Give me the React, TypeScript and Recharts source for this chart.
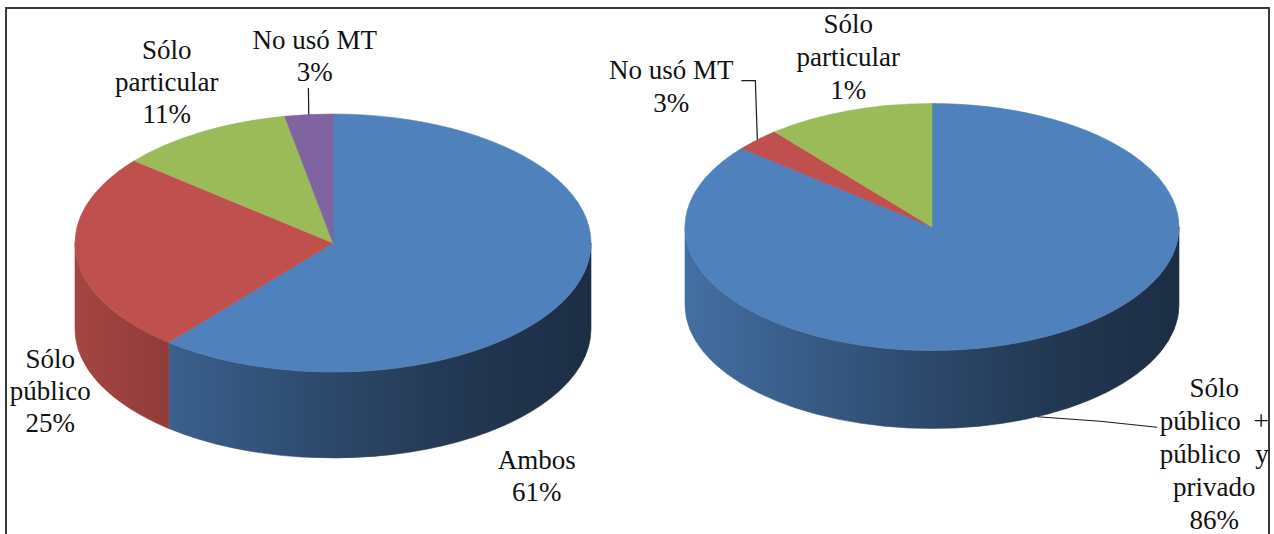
import { Cell, Pie, PieChart, Tooltip } from "recharts";

const W = 1274;
const H = 534;

// Uso de medios de transporte: todos los hogares
const LEFT_NAMES = ["Ambos", "Sólo\npúblico", "Sólo\nparticular", "No usó MT"];
const LEFT_VALUES = [61, 25, 11, 3];
const LEFT_PCT_LABELS = ["61%", "25%", "11%", "3%"];
const LEFT_COLORS = ["#4F81BD", "#C0504D", "#9BBB59", "#8064A2"];

// Uso de medios de transporte: segundo grupo
const RIGHT_NAMES = ["Sólo\npúblico +\npúblico y\nprivado", "No usó MT", "Sólo\nparticular"];
const RIGHT_VALUES = [86, 3, 11];
const RIGHT_PCT_LABELS = ["86%", "3%", "1%"];
const RIGHT_COLORS = ["#4F81BD", "#C0504D", "#9BBB59"];

const leftData = LEFT_NAMES.map((name, i) => ({ name, value: LEFT_VALUES[i] }));
const rightData = RIGHT_NAMES.map((name, i) => ({ name, value: RIGHT_VALUES[i] }));

const TILT = 0.5; // vertical squash of the pie top
const FONT = "Liberation Serif";
const FONT_SIZE = 27;

type LabelLayout = { dx: number; dy: number; justify?: number; leader?: [number, number][] };

// label centre offsets from the slice anchor, plus optional leader elbows
const LEFT_LABEL_LAYOUT: LabelLayout[] = [
  { dx: -39, dy: 103 },
  { dx: -26, dy: 50 },
  { dx: -35, dy: -50 },
  { dx: 6, dy: -58.5, leader: [[-6.3, 32]] },
];
const RIGHT_LABEL_LAYOUT: LabelLayout[] = [
  { dx: 177, dy: 37, justify: 109, leader: [[-114, -32.5], [-57, -26.5]] },
  { dx: -86, dy: -53, leader: [[84, -6], [70, -6]] },
  { dx: 0, dy: -54 },
];

// side wall shading, left to right across the pie
const WALL_STOPS: [number, number][] = [
  [0, 0.86],
  [0.2, 0.74],
  [0.5, 0.56],
  [0.75, 0.43],
  [1, 0.36],
];

const rad = (d: number) => (d * Math.PI) / 180;

function rimPoint(cx: number, cy: number, r: number, deg: number): [number, number] {
  return [cx + r * Math.cos(rad(deg)), cy - r * TILT * Math.sin(rad(deg))];
}

function shade(hex: string, k: number) {
  const n = parseInt(hex.slice(1), 16);
  const c = [(n >> 16) & 255, (n >> 8) & 255, n & 255].map((v) => Math.round(v * k));
  return `rgb(${c.join(",")})`;
}

function sliceShape(id: string, depth: number) {
  return (props: any) => {
    const { cx, cy, outerRadius: r, startAngle, endAngle, fill } = props;
    const hi = Math.max(startAngle, endAngle);
    const lo = Math.min(startAngle, endAngle);
    const ry = r * TILT;
    const [x0, y0] = rimPoint(cx, cy, r, hi);
    const [x1, y1] = rimPoint(cx, cy, r, lo);
    const top = `M${cx},${cy}L${x0},${y0}A${r},${ry} 0 ${hi - lo > 180 ? 1 : 0} 1 ${x1},${y1}Z`;

    // only the front half of the rim (-180..0) shows a wall
    const wHi = Math.min(hi, 0);
    const wLo = Math.max(lo, -180);
    const gid = `${id}-wall-${String(fill).slice(1)}`;
    let wall: string | null = null;
    if (wHi > wLo) {
      const [a0, b0] = rimPoint(cx, cy, r, wHi);
      const [a1, b1] = rimPoint(cx, cy, r, wLo);
      wall = `M${a0},${b0}A${r},${ry} 0 0 1 ${a1},${b1}L${a1},${b1 + depth}A${r},${ry} 0 0 0 ${a0},${b0 + depth}Z`;
    }

    return (
      <g>
        {wall && (
          <>
            <defs>
              <linearGradient id={gid} gradientUnits="userSpaceOnUse" x1={cx - r} y1={0} x2={cx + r} y2={0}>
                {WALL_STOPS.map(([o, k]) => (
                  <stop key={o} offset={o} stopColor={shade(fill, k)} />
                ))}
              </linearGradient>
            </defs>
            <path d={wall} fill={`url(#${gid})`} stroke={`url(#${gid})`} strokeWidth={0.6} />
          </>
        )}
        <path d={top} fill={fill} stroke={fill} strokeWidth={0.6} />
      </g>
    );
  };
}

function sliceLabel(names: string[], pcts: string[], layout: LabelLayout[], depth: number, lh: number) {
  return (props: any) => {
    const { cx, cy, outerRadius: r, midAngle } = props;
    const i = typeof props.index === "number" ? props.index : names.indexOf(props.name);
    const L = layout[i];
    if (!L) return null;
    let [ax, ay] = rimPoint(cx, cy, r, midAngle);
    if (Math.sin(rad(midAngle)) < 0) ay += depth;
    const lx = ax + L.dx;
    const ly = ay + L.dy;
    const lines = [...names[i].split("\n"), pcts[i]];
    const first = ly - ((lines.length - 1) * lh) / 2;
    const pts = L.leader
      ? [[ax, ay], ...L.leader.map(([px, py]) => [lx + px, ly + py])].map((p) => p.join(",")).join(" ")
      : null;

    return (
      <g>
        {pts && <polyline points={pts} fill="none" stroke="#1a1a1a" strokeWidth={1.2} />}
        {lines.map((t, k) => {
          const y = first + k * lh + 9;
          const words = t.split(" ");
          if (L.justify && words.length > 1) {
            return (
              <g key={k}>
                <text x={lx - L.justify / 2} y={y} textAnchor="start" fontFamily={FONT} fontSize={FONT_SIZE} fill="#111">
                  {words.slice(0, -1).join(" ")}
                </text>
                <text x={lx + L.justify / 2} y={y} textAnchor="end" fontFamily={FONT} fontSize={FONT_SIZE} fill="#111">
                  {words[words.length - 1]}
                </text>
              </g>
            );
          }
          return (
            <text key={k} x={lx} y={y} textAnchor="middle" fontFamily={FONT} fontSize={FONT_SIZE} fill="#111">
              {t}
            </text>
          );
        })}
      </g>
    );
  };
}

const LEFT_DEPTH = 86;
const RIGHT_DEPTH = 78;

const leftSlice = sliceShape("left", LEFT_DEPTH);
const rightSlice = sliceShape("right", RIGHT_DEPTH);
const leftLabel = sliceLabel(LEFT_NAMES, LEFT_PCT_LABELS, LEFT_LABEL_LAYOUT, LEFT_DEPTH, 32);
const rightLabel = sliceLabel(RIGHT_NAMES, RIGHT_PCT_LABELS, RIGHT_LABEL_LAYOUT, RIGHT_DEPTH, 33);

export default function App() {
  return (
    <div
      style={{
        position: "absolute",
        left: 0,
        top: 0,
        width: W,
        height: H,
        background: "#fff",
        overflow: "hidden",
      }}
    >
      <div
        style={{
          position: "absolute",
          left: 5,
          top: 7,
          width: 1261,
          height: 560,
          border: "2px solid #3a3a3a",
        }}
      />
      <div style={{ position: "absolute", left: 0, top: 0 }}>
        <PieChart width={W} height={H} margin={{ top: 0, right: 0, bottom: 0, left: 0 }}>
          <Pie
            data={leftData}
            dataKey="value"
            nameKey="name"
            cx={333}
            cy={243}
            outerRadius={258}
            startAngle={90}
            endAngle={-270}
            stroke="none"
            isAnimationActive={false}
            shape={leftSlice}
            activeShape={leftSlice}
            inactiveShape={leftSlice}
            label={leftLabel}
            labelLine={false}
          >
            {LEFT_COLORS.map((c) => (
              <Cell key={c} fill={c} />
            ))}
          </Pie>
          <Pie
            data={rightData}
            dataKey="value"
            nameKey="name"
            cx={932}
            cy={227}
            outerRadius={247}
            startAngle={90}
            endAngle={-270}
            stroke="none"
            isAnimationActive={false}
            shape={rightSlice}
            activeShape={rightSlice}
            inactiveShape={rightSlice}
            label={rightLabel}
            labelLine={false}
          >
            {RIGHT_COLORS.map((c) => (
              <Cell key={c} fill={c} />
            ))}
          </Pie>
          <Tooltip defaultIndex={0} content={() => null} />
        </PieChart>
      </div>
    </div>
  );
}
